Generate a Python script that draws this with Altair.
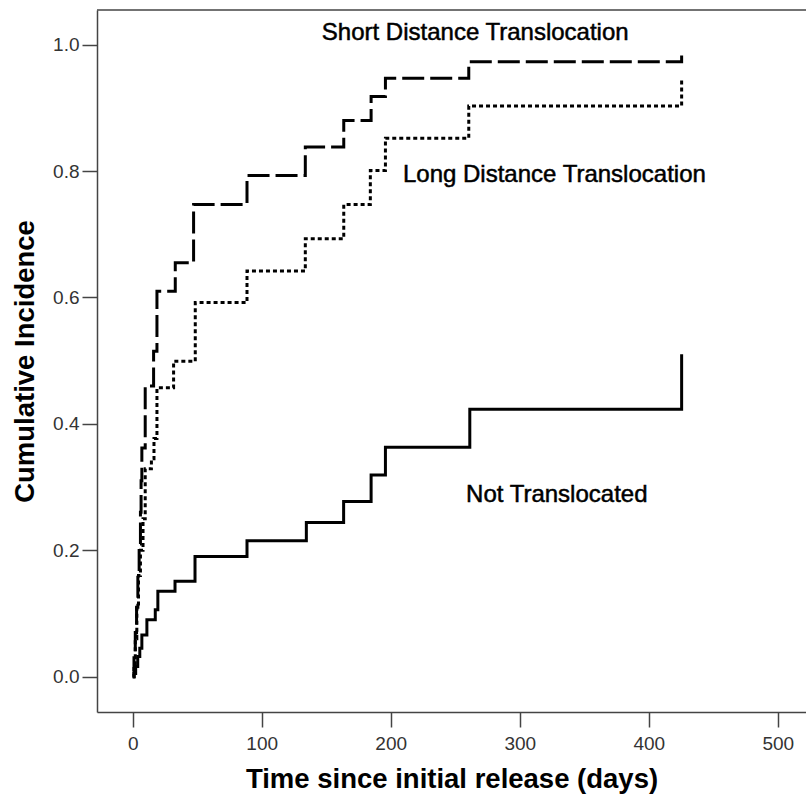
import altair as alt
import pandas as pd

# ---- data ----
series_names = ["Short Distance Translocation", "Long Distance Translocation", "Not Translocated"]

short_time = [0, 1, 2, 3, 4, 5, 6, 6.5, 7.1, 9.7, 16.2, 18.8, 33, 47.2, 88.6, 133.8, 163.6, 184.8, 195.9, 260.5, 425.5]
short_ci = [0, 0.03, 0.07, 0.11, 0.16, 0.21, 0.26, 0.31, 0.362, 0.46, 0.515, 0.61, 0.655, 0.747, 0.793, 0.838, 0.880, 0.918, 0.947, 0.973, 0.99]

long_time = [0, 1, 2, 3.2, 4.5, 6, 8, 9.7, 14.5, 16.5, 18.8, 31.7, 48.5, 88.6, 133.8, 163.6, 184.2, 195.9, 260.5, 425.5]
long_ci = [0, 0.02, 0.06, 0.108, 0.16, 0.20, 0.25, 0.329, 0.345, 0.377, 0.457, 0.499, 0.592, 0.642, 0.693, 0.747, 0.801, 0.852, 0.903, 0.945]

not_time = [0, 1, 2.3, 3.9, 5.5, 7.1, 11, 17.5, 19.5, 32.8, 48.3, 88.6, 134.6, 163.5, 184.8, 195.9, 261.3, 425.5]
not_ci = [0, 0.005, 0.016, 0.032, 0.045, 0.066, 0.090, 0.106, 0.135, 0.151, 0.190, 0.215, 0.244, 0.277, 0.319, 0.363, 0.423, 0.510]

label_text = ["Short Distance Translocation", "Long Distance Translocation", "Not Translocated"]
label_time = [146.6, 209.5, 258.4]
label_ci = [1.0185, 0.7935, 0.288]

x_ticks = [0, 100, 200, 300, 400, 500]
y_ticks = [0.0, 0.2, 0.4, 0.6, 0.8, 1.0]

# ---- build tables ----
rows = []
for name, ts, vs in zip(series_names, [short_time, long_time, not_time], [short_ci, long_ci, not_ci]):
    for i, (t, v) in enumerate(zip(ts, vs)):
        rows.append({"series": name, "time": t, "ci": v, "ord": i})
df = pd.DataFrame(rows)
labels = pd.DataFrame({"text": label_text, "time": label_time, "ci": label_ci})

W, H = 709, 702
x_scale = alt.Scale(domain=[-27.67, 521.9], nice=False, zero=False)
y_scale = alt.Scale(domain=[-0.0559, 1.0549], nice=False, zero=False)

lines = alt.Chart(df).mark_line(
    interpolate="step-after", strokeWidth=3, color="black", strokeCap="butt", clip=True
).encode(
    x=alt.X("time:Q", scale=x_scale,
            axis=alt.Axis(values=x_ticks, title="Time since initial release (days)",
                          labelPadding=7, titlePadding=12)),
    y=alt.Y("ci:Q", scale=y_scale,
            axis=alt.Axis(values=y_ticks, format=".1f", title="Cumulative Incidence",
                          labelPadding=3, titlePadding=13)),
    strokeDash=alt.StrokeDash("series:N",
                              scale=alt.Scale(domain=series_names, range=[[22, 6], [4, 3], [1, 0]]),
                              legend=None),
    order="ord:Q",
)

texts = alt.Chart(labels).mark_text(
    align="left", baseline="middle", fontSize=24, font="Liberation Sans", color="black",
    stroke="black", strokeWidth=0.5
).encode(
    x=alt.X("time:Q", scale=x_scale),
    y=alt.Y("ci:Q", scale=y_scale),
    text="text:N",
)

top_line = alt.Chart(pd.DataFrame({"a": [0]})).mark_rule(color="#444", strokeWidth=1.5).encode(
    x=alt.value(0), x2=alt.value(W), y=alt.value(0)
)

chart = alt.layer(lines, texts, top_line).properties(
    width=W, height=H,
    autosize=alt.AutoSizeParams(type="none"),
    padding={"left": 97, "top": 10, "right": 0, "bottom": 84},
    background="white",
).configure_view(stroke=None).configure_axis(
    grid=False,
    domainColor="#444", domainWidth=1.5,
    tickColor="#444", tickWidth=1.5, tickSize=15,
    labelFont="Liberation Sans", labelFontSize=19, labelColor="#333",
    titleFont="Liberation Sans", titleFontSize=27.5, titleFontWeight="bold", titleColor="black",
)

chart.save("out.html", embed_options={"renderer": "svg", "actions": False})
